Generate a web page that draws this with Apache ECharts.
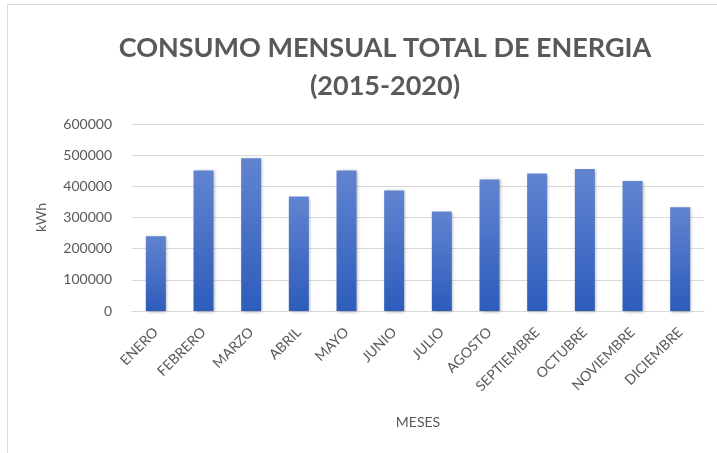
<!DOCTYPE html>
<html>
<head>
<meta charset="utf-8">
<script src="https://cdn.jsdelivr.net/npm/echarts@6/dist/echarts.min.js"></script>
<style>
    html,body{margin:0;padding:0;background:#fff;}
    #chart{width:717px;height:453px;}
</style>
</head>
<body>
<div id="chart"></div>
<script>
    // meses y consumo (kWh)
    var meses = ["ENERO","FEBRERO","MARZO","ABRIL","MAYO","JUNIO","JULIO","AGOSTO","SEPTIEMBRE","OCTUBRE","NOVIEMBRE","DICIEMBRE"];
    var consumo = [240000,451000,490000,367000,451000,387000,319000,422000,441000,456000,417000,333000];

    var fuente = "Lato, 'Open Sans', sans-serif";
    var chart = echarts.init(document.getElementById("chart"));
    var option = {
        animation: false,
        title: {
            text: "CONSUMO MENSUAL TOTAL DE ENERGIA\n(2015-2020)",
            left: 380,
            top: 24,
            textAlign: "center",
            textStyle: {
                color: "#595959",
                fontFamily: fuente,
                fontWeight: "bold",
                fontSize: 27,
                lineHeight: 38
            }
        },
        graphic: [{
            type: "rect",
            shape: {x: 7.5, y: 4.5, width: 720, height: 460},
            style: {fill: "none", stroke: "#d9d9d9", lineWidth: 1},
            silent: true
        }],
        grid: {left: 132, right: 13, top: 124, bottom: 142},
        xAxis: {
            type: "category",
            data: meses,
            name: "MESES",
            nameLocation: "middle",
            nameGap: 104,
            nameTextStyle: {color: "#595959", fontFamily: fuente, fontSize: 14},
            axisLine: {lineStyle: {color: "#d9d9d9"}},
            axisTick: {show: false},
            axisLabel: {
                interval: 0,
                rotate: 45,
                margin: 19,
                color: "#595959",
                fontFamily: fuente,
                fontSize: 14
            }
        },
        yAxis: {
            type: "value",
            min: 0,
            max: 600000,
            interval: 100000,
            name: "kWh",
            nameLocation: "middle",
            nameGap: 84,
            nameTextStyle: {color: "#595959", fontFamily: fuente, fontSize: 14},
            axisLine: {show: false},
            axisTick: {show: false},
            splitLine: {lineStyle: {color: "#d9d9d9"}},
            axisLabel: {
                margin: 20,
                color: "#595959",
                fontFamily: fuente,
                fontSize: 14,
                formatter: function (v) { return String(v); }
            }
        },
        series: [{
            type: "bar",
            data: consumo,
            barWidth: 20,
            itemStyle: {
                color: new echarts.graphic.LinearGradient(0, 0, 0, 1, [
                    {offset: 0, color: "#6184d0"},
                    {offset: 1, color: "#2d5cbb"}
                ]),
                shadowColor: "rgba(0,0,0,0.3)",
                shadowBlur: 3,
                shadowOffsetX: 1,
                shadowOffsetY: 1
            }
        }]
    };
    chart.setOption(option);
</script>
</body>
</html>
